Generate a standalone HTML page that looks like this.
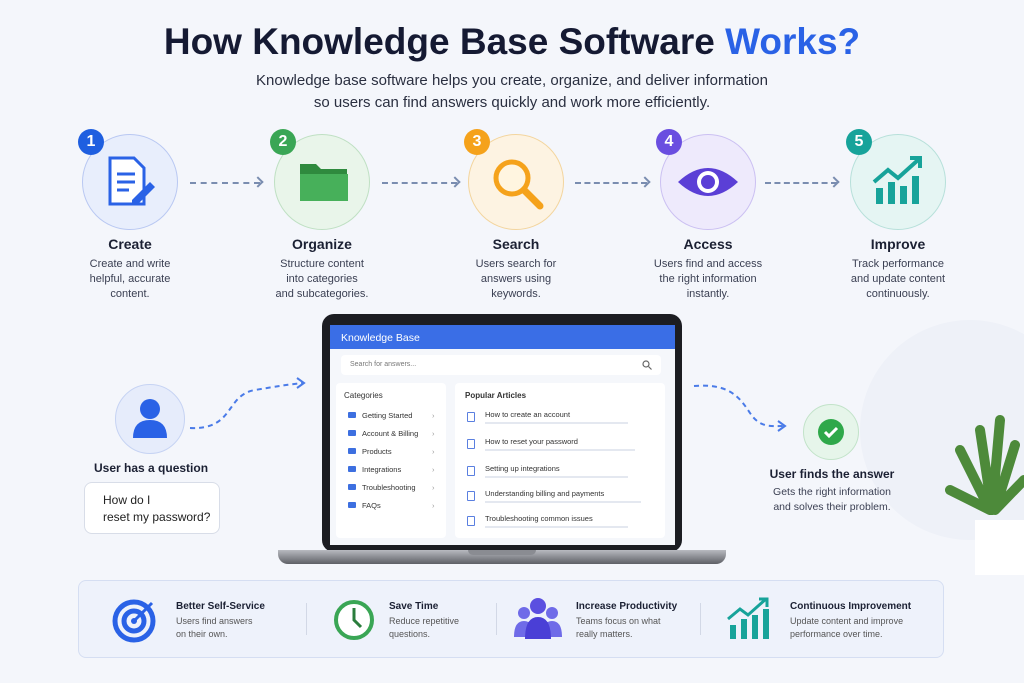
<!DOCTYPE html><html><head><meta charset="utf-8"><style>
*{margin:0;padding:0;box-sizing:border-box}
body{width:1024px;height:683px;background:#f4f6fb;font-family:"Liberation Sans",sans-serif;position:relative;overflow:hidden;color:#1b2033}
.a{position:absolute}
.c{text-align:center}
.circ{position:absolute;width:96px;height:96px;border-radius:50%;border:1.5px solid}
.badge{position:absolute;width:26px;height:26px;border-radius:50%;color:#fff;font-weight:bold;font-size:16px;text-align:center;line-height:26px}
.t{position:absolute;font-weight:bold;font-size:14px;width:160px;text-align:center}
.d{position:absolute;font-size:11px;line-height:15px;width:160px;text-align:center;color:#3a3f52}
.dash{position:absolute;border-top:2px dashed #7a8db0;height:0}
.arr{position:absolute;width:8px;height:8px;border-top:2px solid #7a8db0;border-right:2px solid #7a8db0;transform:rotate(45deg)}
.cat{position:absolute;left:12px;font-size:7.5px;color:#333}
.cat i{display:inline-block;width:8px;height:6px;background:#3d6fe0;margin-right:6px;border-radius:1px}
.cat b{position:absolute;left:84px;color:#999;font-weight:normal}
.art{position:absolute;left:12px;font-size:7.5px;color:#333}
.art i{position:absolute;left:0;top:0;width:8px;height:10px;border:1.2px solid #5a7fe0;border-radius:1px}
.art span{position:absolute;left:18px;top:-2px;white-space:nowrap}
.art u{position:absolute;left:18px;top:10px;height:2px;background:#e4e8f0;text-decoration:none}
.ft{position:absolute;font-weight:bold;font-size:10px}
.fd{position:absolute;font-size:9px;line-height:13px;color:#555}
</style></head><body>
<div class="a" style="left:860px;top:320px;width:220px;height:220px;border-radius:50%;background:#eef1f8"></div>
<div class="a c" style="left:0;top:21px;width:1024px;font-size:37px;font-weight:bold;color:#151a33">How Knowledge Base Software <span style="color:#2a62e6">Works?</span></div>
<div class="a c" style="left:0;top:70px;width:1024px;font-size:15px;line-height:22px;color:#2a2f40">Knowledge base software helps you create, organize, and deliver information<br>so users can find answers quickly and work more efficiently.</div>

<div class="circ" style="left:82px;top:134px;background:#e8eefc;border-color:#b9c8f2"></div>
<div class="circ" style="left:274px;top:134px;background:#e9f5ea;border-color:#bfe0c3"></div>
<div class="circ" style="left:468px;top:134px;background:#fdf3e2;border-color:#f3d59e"></div>
<div class="circ" style="left:660px;top:134px;background:#eeeafc;border-color:#cbc0f2"></div>
<div class="circ" style="left:850px;top:134px;background:#e5f5f3;border-color:#b7e0da"></div>
<div class="badge" style="left:78px;top:129px;background:#1f5fe0">1</div>
<div class="badge" style="left:270px;top:129px;background:#3aa655">2</div>
<div class="badge" style="left:464px;top:129px;background:#f5a21b">3</div>
<div class="badge" style="left:656px;top:129px;background:#6a4ee0">4</div>
<div class="badge" style="left:846px;top:129px;background:#17a39a">5</div>
<svg class="a" style="left:100px;top:152px" width="60" height="60"><path d="M10 6h24l10 10v36H10z" fill="#fff" stroke="#2a62e6" stroke-width="3"/><path d="M17 22h18M17 30h18M17 38h12" stroke="#2a62e6" stroke-width="3"/><path d="M32 48l18-18 5 5-18 18h-5z" fill="#2a62e6"/></svg>
<svg class="a" style="left:296px;top:158px" width="56" height="48"><path d="M4 6h16l5 5h26v32H4z" fill="#2f8a3e"/><path d="M4 16h48v27H4z" fill="#47b05a"/></svg>
<svg class="a" style="left:488px;top:154px" width="60" height="60"><circle cx="24" cy="24" r="16" fill="#fff5e0" stroke="#f5a21b" stroke-width="5"/><path d="M36 36l16 16" stroke="#f5a21b" stroke-width="7" stroke-linecap="round"/></svg>
<svg class="a" style="left:676px;top:162px" width="64" height="40"><path d="M2 20Q32-8 62 20Q32 48 2 20z" fill="#5b3fd6"/><circle cx="32" cy="20" r="11" fill="#fff"/><circle cx="32" cy="20" r="7" fill="#5b3fd6"/></svg>
<svg class="a" style="left:870px;top:154px" width="56" height="56"><rect x="6" y="34" width="7" height="16" fill="#17a39a"/><rect x="18" y="28" width="7" height="22" fill="#17a39a"/><rect x="30" y="32" width="7" height="18" fill="#17a39a"/><rect x="42" y="22" width="7" height="28" fill="#17a39a"/><path d="M4 28l14-12 10 8 20-18" stroke="#17a39a" stroke-width="4" fill="none"/><path d="M40 4h10v10" stroke="#17a39a" stroke-width="4" fill="none"/></svg>

<div class="dash" style="left:190px;top:182px;width:70px"></div><div class="arr" style="left:254px;top:178px"></div>
<div class="dash" style="left:382px;top:182px;width:75px"></div><div class="arr" style="left:451px;top:178px"></div>
<div class="dash" style="left:575px;top:182px;width:72px"></div><div class="arr" style="left:641px;top:178px"></div>
<div class="dash" style="left:765px;top:182px;width:72px"></div><div class="arr" style="left:830px;top:178px"></div>

<div class="t" style="left:50px;top:236px">Create</div>
<div class="t" style="left:242px;top:236px">Organize</div>
<div class="t" style="left:436px;top:236px">Search</div>
<div class="t" style="left:628px;top:236px">Access</div>
<div class="t" style="left:818px;top:236px">Improve</div>
<div class="d" style="left:50px;top:257px">Create and write<br>helpful, accurate<br>content.</div>
<div class="d" style="left:242px;top:257px">Structure content<br>into categories<br>and subcategories.</div>
<div class="d" style="left:436px;top:257px">Users search for<br>answers using<br>keywords.</div>
<div class="d" style="left:628px;top:257px">Users find and access<br>the right information<br>instantly.</div>
<div class="d" style="left:818px;top:257px">Track performance<br>and update content<br>continuously.</div>

<div class="a" style="left:115px;top:384px;width:70px;height:70px;border-radius:50%;background:#e6ecfb;border:1.5px solid #c6d3f3"></div>
<svg class="a" style="left:130px;top:396px" width="40" height="44"><circle cx="20" cy="13" r="10" fill="#2a62e6"/><path d="M3 42q0-18 17-18t17 18z" fill="#2a62e6"/></svg>
<div class="a" style="left:94px;top:461px;font-weight:bold;font-size:12px">User has a question</div>
<div class="a" style="left:84px;top:482px;width:136px;height:52px;background:#fff;border:1px solid #d8dde8;border-radius:8px;font-size:12px;line-height:17px;padding:9px 0 0 18px;color:#222">How do I<br>reset my password?</div>
<svg class="a" style="left:185px;top:375px" width="130" height="60"><path d="M5 53C50 55 40 20 70 15S100 10 118 8" stroke="#4a7be8" stroke-width="2" stroke-dasharray="5 4" fill="none"/><path d="M112 3l7 5-7 5" stroke="#4a7be8" stroke-width="2" fill="none"/></svg>

<svg class="a" style="left:690px;top:378px" width="100" height="55"><path d="M4 8C40 5 50 20 60 35S80 48 94 48" stroke="#4a7be8" stroke-width="2" stroke-dasharray="5 4" fill="none"/><path d="M88 43l7 5-7 5" stroke="#4a7be8" stroke-width="2" fill="none"/></svg>
<div class="a" style="left:803px;top:404px;width:56px;height:56px;border-radius:50%;background:#e6f5ea;border:1.5px solid #c2e3c9"></div>
<div class="a" style="left:818px;top:419px;width:26px;height:26px;border-radius:50%;background:#2fa84a"></div>
<svg class="a" style="left:818px;top:419px" width="26" height="26"><path d="M7 13l4 4 8-8" stroke="#fff" stroke-width="3" fill="none"/></svg>
<div class="a c" style="left:752px;top:467px;width:160px;font-weight:bold;font-size:12px">User finds the answer</div>
<div class="a c" style="left:752px;top:485px;width:160px;font-size:10.5px;line-height:15px;color:#3a3f52">Gets the right information<br>and solves their problem.</div>
<svg class="a" style="left:940px;top:410px" width="84" height="165"><path d="M50 100L20 40M50 100L10 80M52 100L40 20M55 100L75 35M55 100L84 70M52 100L60 10" stroke="#4d8a3a" stroke-width="10" stroke-linecap="round"/><path d="M35 110h50v55H35z" fill="#fff"/></svg>

<div class="a" style="left:322px;top:314px;width:360px;height:238px;background:#1c1d22;border-radius:12px"></div>
<div class="a" style="left:330px;top:325px;width:345px;height:220px;background:#f5f7fb;overflow:hidden">
 <div class="a" style="left:0;top:0;width:345px;height:24px;background:#3a6ee6;color:#fff;font-size:10.5px;padding:7px 0 0 11px">Knowledge Base</div>
 <div class="a" style="left:11px;top:30px;width:320px;height:20px;background:#fff;border-radius:4px;font-size:7px;color:#777;padding:6px 0 0 9px">Search for answers...</div>
 <svg class="a" style="left:312px;top:35px" width="10" height="10"><circle cx="4" cy="4" r="3" stroke="#666" fill="none" stroke-width="1.2"/><path d="M6.5 6.5l3 3" stroke="#666" stroke-width="1.2"/></svg>
 <div class="a" style="left:6px;top:58px;width:110px;height:155px;background:#fff;border-radius:4px">
  <div class="a" style="left:8px;top:8px;font-size:8px;color:#333">Categories</div>
  <div class="cat" style="top:28px"><i></i>Getting Started<b>›</b></div>
  <div class="cat" style="top:46px"><i></i>Account &amp; Billing<b>›</b></div>
  <div class="cat" style="top:64px"><i></i>Products<b>›</b></div>
  <div class="cat" style="top:82px"><i></i>Integrations<b>›</b></div>
  <div class="cat" style="top:100px"><i></i>Troubleshooting<b>›</b></div>
  <div class="cat" style="top:118px"><i></i>FAQs<b>›</b></div>
 </div>
 <div class="a" style="left:125px;top:58px;width:210px;height:155px;background:#fff;border-radius:4px">
  <div class="a" style="left:10px;top:8px;font-size:8px;font-weight:bold;color:#333">Popular Articles</div>
  <div class="art" style="top:29px"><i></i><span>How to create an account</span><u style="width:143px"></u></div>
  <div class="art" style="top:56px"><i></i><span>How to reset your password</span><u style="width:150px"></u></div>
  <div class="art" style="top:83px"><i></i><span>Setting up integrations</span><u style="width:143px"></u></div>
  <div class="art" style="top:108px"><i></i><span>Understanding billing and payments</span><u style="width:156px"></u></div>
  <div class="art" style="top:133px"><i></i><span>Troubleshooting common issues</span><u style="width:143px"></u></div>
 </div>
</div>
<div class="a" style="left:278px;top:550px;width:448px;height:14px;background:linear-gradient(#b8bac0,#5e6066);border-radius:0 0 10px 10px"></div>
<div class="a" style="left:468px;top:550px;width:68px;height:5px;background:#8a8c92;border-radius:0 0 5px 5px"></div>

<div class="a" style="left:78px;top:580px;width:866px;height:78px;background:#eef2fb;border:1px solid #d5def2;border-radius:8px"></div>
<div class="a" style="left:306px;top:603px;width:1px;height:32px;background:#d2d8e6"></div>
<div class="a" style="left:496px;top:603px;width:1px;height:32px;background:#d2d8e6"></div>
<div class="a" style="left:700px;top:603px;width:1px;height:32px;background:#d2d8e6"></div>
<svg class="a" style="left:112px;top:597px" width="46" height="46"><circle cx="22" cy="24" r="19" fill="none" stroke="#2a62e6" stroke-width="5"/><circle cx="22" cy="24" r="10" fill="none" stroke="#2a62e6" stroke-width="5"/><circle cx="22" cy="24" r="3" fill="#2a62e6"/><path d="M22 24L40 6" stroke="#2a62e6" stroke-width="3"/></svg>
<div class="ft" style="left:176px;top:601px">Better Self-Service</div>
<div class="fd" style="left:176px;top:615px">Users find answers<br>on their own.</div>
<svg class="a" style="left:332px;top:598px" width="44" height="44"><circle cx="22" cy="22" r="18" fill="#fff" stroke="#3aa655" stroke-width="4"/><path d="M22 10v12l7 7" stroke="#2a7d3c" stroke-width="3" fill="none"/></svg>
<div class="ft" style="left:389px;top:601px">Save Time</div>
<div class="fd" style="left:389px;top:615px">Reduce repetitive<br>questions.</div>
<svg class="a" style="left:512px;top:597px" width="52" height="44"><circle cx="26" cy="9" r="8" fill="#5b4fe0"/><circle cx="12" cy="16" r="6" fill="#6f6be8"/><circle cx="40" cy="16" r="6" fill="#6f6be8"/><path d="M2 40q0-16 10-16t10 16zM30 40q0-16 10-16t10 16z" fill="#6f6be8"/><path d="M13 42q0-22 13-22t13 22z" fill="#4a3fd6"/></svg>
<div class="ft" style="left:576px;top:601px">Increase Productivity</div>
<div class="fd" style="left:576px;top:615px">Teams focus on what<br>really matters.</div>
<svg class="a" style="left:726px;top:597px" width="46" height="44"><rect x="4" y="28" width="6" height="14" fill="#17a39a"/><rect x="15" y="22" width="6" height="20" fill="#17a39a"/><rect x="26" y="18" width="6" height="24" fill="#17a39a"/><rect x="37" y="12" width="6" height="30" fill="#17a39a"/><path d="M2 22l12-10 8 6 18-16" stroke="#17a39a" stroke-width="3" fill="none"/><path d="M33 2h8v8" stroke="#17a39a" stroke-width="3" fill="none"/></svg>
<div class="ft" style="left:790px;top:601px">Continuous Improvement</div>
<div class="fd" style="left:790px;top:615px">Update content and improve<br>performance over time.</div>
</body></html>
